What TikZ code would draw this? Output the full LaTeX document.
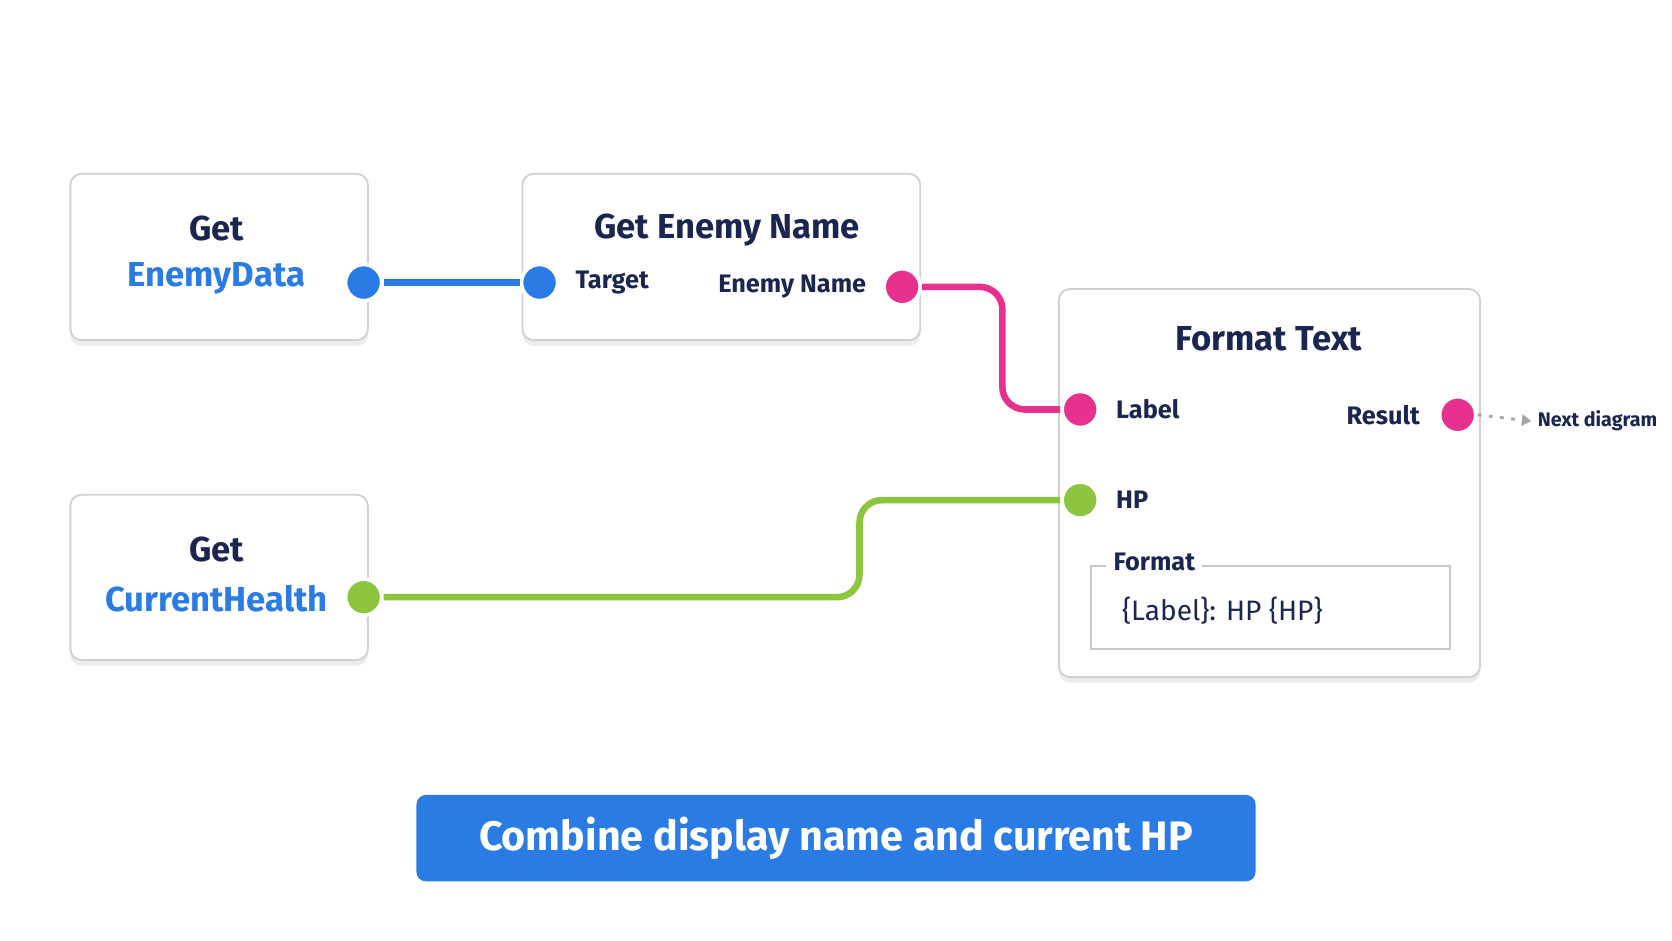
\documentclass[tikz,border=0pt]{standalone}
\usepackage{fontspec}
\setmainfont{Fira Sans}
\usetikzlibrary{positioning,arrows.meta,shadows}
\definecolor{navy}{HTML}{1A2550}
\definecolor{pblue}{HTML}{2B7BE5}
\definecolor{ppink}{HTML}{E8318F}
\definecolor{pgreen}{HTML}{8CC63F}
\tikzset{
  card/.style={draw=black!18, line width=1pt, fill=white, rounded corners=6pt,
    drop shadow={shadow xshift=0pt, shadow yshift=-3pt, opacity=.15}},
  port/.style={circle, draw=white, line width=2pt, minimum size=0.68cm, inner sep=0pt},
  wire/.style={line width=3.5pt, rounded corners=12pt},
  ttl/.style={text=navy, font=\bfseries\fontsize{18.5}{22}\selectfont},
  lbl/.style={text=navy, font=\fontsize{13.5}{16}\selectfont\bfseries},
}
\begin{document}
\begin{tikzpicture}[x=0.02cm,y=-0.02cm]
  \useasboundingbox[fill=white] (0,0) rectangle (1568,882);
  % cards
  \draw[card] (66,163) rectangle (345,319);
  \draw[card] (490,163) rectangle (863,319);
  \draw[card] (66,464) rectangle (345,619);
  \draw[card] (993,271) rectangle (1388,635);
  \node[ttl] (get1) at (203,214) {Get};
  \node[ttl, text=pblue] (enemydata) at (203,261) {EnemyData};
  \node[ttl] (getname) at (682,216) {Get Enemy Name};
  \node[ttl] (get2) at (203,515) {Get};
  \node[ttl, text=pblue] (curhealth) at (203,561) {CurrentHealth};
  \node[ttl] (fmttext) at (1190,318) {Format Text};
  % ports
  \node[port, fill=pblue] (dataout) at (341,265) {};
  \node[port, fill=pblue] (targetin) at (506,265) {};
  \node[port, fill=ppink] (nameout) at (846,269) {};
  \node[port, fill=pgreen] (healthout) at (341,560) {};
  \node[port, fill=ppink] (labelin) at (1013,384) {};
  \node[port, fill=pgreen] (hpin) at (1013,469) {};
  \node[port, fill=ppink] (resultout) at (1367,389) {};
  \node[lbl, right=5pt of targetin] (target) {Target};
  \node[lbl, left=5pt of nameout] (enemyname) {Enemy Name};
  \node[lbl, right=5pt of labelin] (label) {Label};
  \node[lbl, right=5pt of hpin] (hp) {HP};
  \node[lbl, left=6pt of resultout] (result) {Result};
  % format field
  \draw[black!22, line width=1pt] (1023,531) rectangle (1360,609);
  \node[lbl, fill=white, inner xsep=4pt, anchor=west] (format) at (1037,527) {Format};
  \node[text=navy, font=\fontsize{15}{18}\selectfont, anchor=west] (fmtval) at (1046,573) {\{Label\}: HP \{HP\}};
  % wires
  \draw[wire, pblue] (dataout.east) -- (targetin.west);
  \draw[wire, ppink] (nameout.east) -- (940,269) -- (940,384) -- (labelin.west);
  \draw[wire, pgreen] (healthout.east) -- (806,560) -- (806,469) -- (hpin.west);
  \node[text=navy, font=\fontsize{10.5}{13}\selectfont\bfseries, anchor=west] (next) at (1436,395) {Next diagram};
  \draw[black!35, line width=1.5pt, dash pattern=on 2pt off 4pt, -{Triangle[length=5pt,width=6pt]}]
    (resultout.east) -- (next.west);
  % banner
  \node[fill=pblue, rounded corners=5pt, minimum width=15.74cm, minimum height=1.62cm,
    text=white, font=\bfseries\fontsize{22}{26}\selectfont] (banner) at (784,786)
    {Combine display name and current HP};
\end{tikzpicture}
\end{document}
